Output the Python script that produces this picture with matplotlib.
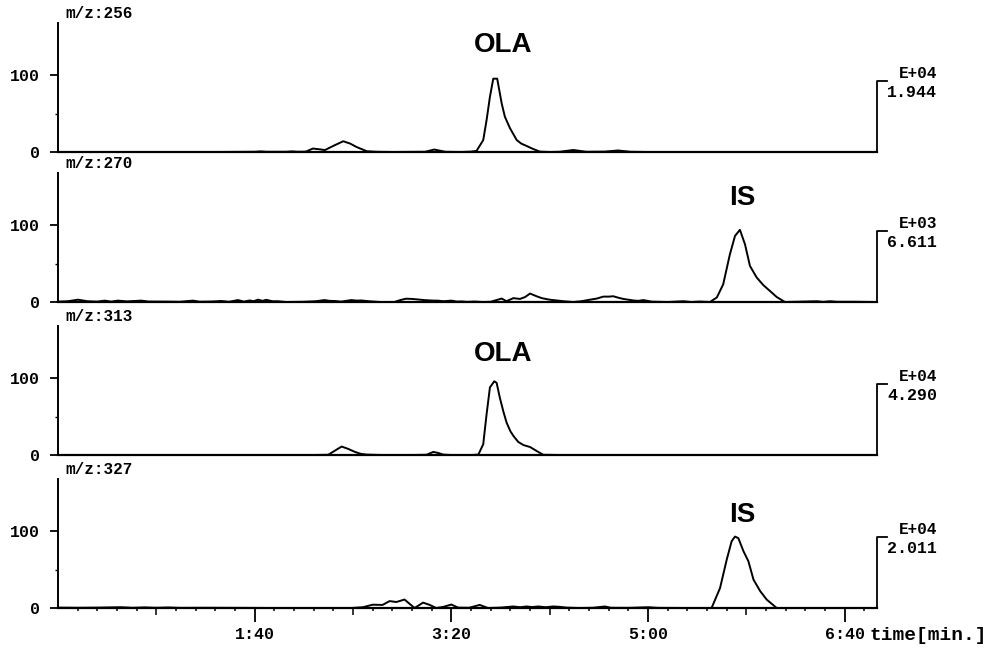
import matplotlib
matplotlib.use('Agg')
import matplotlib.pyplot as plt
from matplotlib.ticker import FixedLocator, FuncFormatter

# chromatogram traces, time in seconds, intensity in % of panel max
t_256 = [0, 20, 40, 60, 80, 100, 103, 106, 116, 119, 122, 126, 129.6, 133, 135.7, 140, 145,
         148.5, 151.8, 157, 162, 170, 180, 186.7, 191.3, 196.9, 205, 210, 212.8, 216.2, 217.9,
         219.6, 221.3, 223.3, 225.6, 227.2, 229.8, 233.2, 235.5, 238.3, 241.5, 245, 250, 255,
         262, 268.6, 278, 284.7, 291, 300, 320, 340, 360, 380, 400, 416]
i_256 = [0, 0, 0, 0, 0, 0.3, 0.8, 0.3, 0.3, 0.8, 0.3, 0.5, 4.5, 3.5, 2.5, 8, 14,
         11, 6.5, 1, 0.3, 0, 0.2, 0.3, 3.2, 0.3, 0, 0.5, 1.5, 15.5, 41.5,
         71.8, 95.5, 95.5, 63, 46, 31, 15.6, 11, 7.8, 4, 0.5, 0, 0.3,
         2.6, 0.3, 0.5, 2, 0.3, 0, 0, 0, 0, 0, 0, 0]

t_270 = [0, 5, 10.2, 15, 20, 23.7, 27, 30.5, 35, 42.4, 46, 55, 62, 68.6, 72, 78, 83, 87, 91.5,
         94.5, 97.5, 99.5, 101.7, 104, 105.9, 109, 111.8, 116, 125, 131, 135.6, 138, 140.7, 144,
         149.1, 152, 154.2, 158, 164, 171, 174, 177, 180, 183, 186, 188, 191, 193, 196, 200, 203,
         205, 208, 211.8, 216, 220, 225.6, 228, 231.5, 234.9, 237.5, 240, 243.3, 246, 250, 257,
         262, 266, 270.5, 274, 277.2, 280, 282.3, 285, 287.4, 292.5, 295, 297.6, 301.8, 310,
         317.9, 322, 326.4, 331.5, 335, 338.2, 341.6, 344.2, 346.7, 349.3, 351.8, 355.2, 358.6,
         362, 365.4, 369.6, 375, 385.7, 389, 392.5, 396, 405, 416]
i_270 = [0.5, 1, 3, 1, 0.5, 1.8, 0.5, 1.8, 0.8, 1.8, 0.6, 0.5, 0.3, 1.8, 0.4, 0.6, 1.3, 0.3, 2.5,
         0.5, 2, 1, 3, 1.5, 2.8, 1, 1, 0, 0.3, 1, 2.5, 1.5, 1.3, 0.5,
         2.5, 1.8, 2, 1, 0, 0, 2.5, 4.3, 4, 3.3, 2.5, 2.2, 1.8, 1.8, 1, 1.8, 0.5,
         0.8, 0.2, 0.6, 0, 0.3, 4.5, 1, 5, 4, 6.5, 11, 7.5, 5, 3, 1,
         0, 1, 3, 4.5, 7, 7, 7.5, 5.5, 4, 2, 1.5, 2.5, 0.5, 0,
         1, 0, 0.6, 0, 6, 23, 62, 86, 94, 75, 47, 32, 22,
         14.3, 6.5, 0, 0.3, 1, 0.2, 1, 0.3, 0.3, 0]

t_313 = [0, 50, 100, 130, 137.4, 141, 144.2, 147.5, 151, 154, 157, 165, 180, 187.4, 190.8, 193.5,
         195.9, 200, 210, 213.7, 216.2, 217.9, 219.6, 221.8, 223, 224.7, 226.5, 228.1, 230, 231.5,
         234, 236.6, 240, 243.5, 246.7, 255, 270, 300, 350, 400, 416]
i_313 = [0, 0, 0, 0, 0.3, 6, 11, 8, 4, 1.5, 0.5, 0, 0, 0.3, 4, 2.5,
         0.5, 0, 0, 0.5, 14, 53, 88, 96, 94, 74, 56, 42, 31, 25,
         17, 13, 10.4, 5, 0.3, 0, 0, 0, 0, 0, 0]

t_327 = [0, 10, 20, 32, 38, 44, 50, 56, 62, 75, 90, 110, 130, 149, 155, 160, 165, 168.6, 172,
         176.2, 178.5, 181.3, 185.6, 189, 192.3, 196, 200, 203.4, 209, 214.4, 218.6, 225, 231.5,
         235, 238.3, 241, 244.2, 248, 251.8, 255, 258.6, 265, 272, 278.1, 281, 290, 300.1, 305,
         320, 332.3, 336.6, 340, 342.5, 344.2, 345.9, 348.5, 351, 353.6, 357, 360.3, 365.4, 380,
         400, 416]
i_327 = [0.5, 0.3, 0.5, 1, 0.3, 0.8, 0.3, 0.7, 0.2, 0.3, 0.2, 0, 0, 0, 1, 4.3, 4, 9, 7.8,
         11, 6, 0, 7, 4, 0, 1.5, 4.5, 0.5, 0.3, 4, 0, 0.5, 2,
         1, 2, 1.2, 2, 1, 2, 1.5, 0.5, 0, 0.3, 2, 0.3, 0.2, 1, 0.2,
         0, 0, 26, 63, 87, 93, 91, 74, 61, 37, 22, 11, 0, 0,
         0, 0]

masses = ['m/z:256', 'm/z:270', 'm/z:313', 'm/z:327']
exponents = ['E+04', 'E+03', 'E+04', 'E+04']
full_scales = ['1.944', '6.611', '4.290', '2.011']
peak_names = ['OLA', 'IS', 'OLA', 'IS']
peak_label_x = [226.2, 347.7, 226.2, 347.7]
peak_label_y = [139, 135, 131, 121]
time_ticks = [100, 200, 300, 400]

traces = [(t_256, i_256), (t_270, i_270), (t_313, i_313), (t_327, i_327)]

MONO = 'Liberation Mono'
XMAX = 416.4


def mmss(x, pos):
    return '%d:%02d' % (int(x) // 60, int(x) % 60)


fig = plt.figure(figsize=(9.95, 6.52), dpi=100)
left = 58 / 995
width = 819 / 995
height = 129 / 652
bottoms = [1 - 152 / 652, 1 - 302 / 652, 1 - 455 / 652, 1 - 608 / 652]

for k, (t, inten) in enumerate(traces):
    ax = fig.add_axes([left, bottoms[k], width, height])
    ax.plot(t, inten, color='black', lw=1.4, clip_on=False, solid_joinstyle='round')
    ax.set_xlim(0, XMAX)
    ax.set_ylim(0, 168)

    ax.spines['top'].set_visible(False)
    ax.spines['right'].set_visible(False)
    ax.spines['left'].set_linewidth(1.4)
    ax.spines['bottom'].set_linewidth(1.6)

    ax.set_yticks([0, 100])
    ax.yaxis.set_minor_locator(FixedLocator([50]))
    ax.tick_params(axis='y', which='major', length=6, width=1.3, pad=7, labelsize=12)
    ax.tick_params(axis='y', which='minor', length=2, width=1.0)
    for lab in ax.get_yticklabels():
        lab.set_family(MONO)
        lab.set_fontweight('bold')

    # right-hand full scale bracket
    ax.plot([XMAX, XMAX, XMAX + 5.1], [0, 93, 93], color='black', lw=1.3, clip_on=False)
    ax.text(446.9, 102, exponents[k], ha='right', va='center', family=MONO,
            fontweight='bold', fontsize=11.5)
    ax.text(446.9, 78, full_scales[k], ha='right', va='center', family=MONO,
            fontweight='bold', fontsize=12)

    ax.text(0.0085, 1.07, masses[k], transform=ax.transAxes, ha='left', va='center',
            family=MONO, fontweight='bold', fontsize=11.5)
    ax.text(peak_label_x[k], peak_label_y[k], peak_names[k], ha='center', va='center',
            family='Liberation Sans', fontweight='bold', fontsize=20)

    if k < 3:
        ax.set_xticks([])
    else:
        ax.set_xticks(time_ticks)
        ax.xaxis.set_major_formatter(FuncFormatter(mmss))
        ax.xaxis.set_minor_locator(FixedLocator([s for s in range(10, 420, 10) if s % 50]))
        ax.tick_params(axis='x', which='major', length=10, width=1.3, pad=4, labelsize=12)
        ax.tick_params(axis='x', which='minor', length=2.5, width=1.1)
        for lab in ax.get_xticklabels():
            lab.set_family(MONO)
            lab.set_fontweight('bold')
        sec = ax.secondary_xaxis('bottom')
        sec.set_xticks([50, 150, 250, 350])
        sec.tick_params(length=5, width=1.1, labelbottom=False)
        sec.spines['bottom'].set_visible(False)
        ax.text(412.8, -0.217, 'time[min.]', transform=ax.get_xaxis_transform(),
                ha='left', va='center', family=MONO, fontweight='bold', fontsize=14)

fig.savefig('out.png', dpi=100)
